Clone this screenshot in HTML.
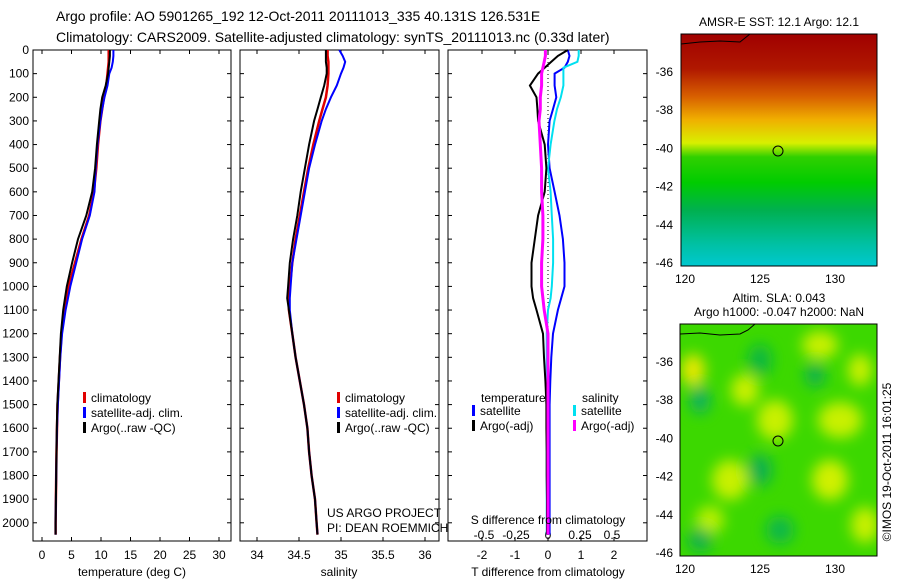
<!DOCTYPE html>
<html><head><meta charset="utf-8"><style>
body{margin:0;background:#fff;}
svg{display:block;font-family:"Liberation Sans",sans-serif;}
</style></head><body>
<svg id="c" width="900" height="580" viewBox="0 0 900 580">
<defs>
<linearGradient id="sstg" x1="0" y1="0" x2="0" y2="1">
<stop offset="0" stop-color="#a00000"/><stop offset="0.15" stop-color="#b01800"/>
<stop offset="0.27" stop-color="#d86000"/><stop offset="0.37" stop-color="#f0b000"/>
<stop offset="0.47" stop-color="#d8f000"/><stop offset="0.53" stop-color="#30d000"/>
<stop offset="0.64" stop-color="#00cc00"/><stop offset="0.76" stop-color="#00b050"/>
<stop offset="0.9" stop-color="#00c0a0"/><stop offset="1" stop-color="#00c8d0"/>
</linearGradient>
<filter id="bl"><feGaussianBlur stdDeviation="7"/></filter>
<clipPath id="m2clip"><rect x="680" y="324" width="197" height="232"/></clipPath>
</defs>
<text x="56" y="21" font-size="14">Argo profile: AO 5901265_192 12-Oct-2011 20111013_335 40.131S 126.531E</text>
<text x="56" y="42" font-size="14">Climatology: CARS2009. Satellite-adjusted climatology: synTS_20111013.nc (0.33d later)</text>
<g id="panels"></g>
<g>
<text x="779" y="26" font-size="12" text-anchor="middle">AMSR-E SST: 12.1 Argo: 12.1</text>
<rect x="681" y="34" width="196" height="232" fill="url(#sstg)"/>
<path d="M681,44 L700,42 L720,41 L740,42 L745,38 L750,34" fill="none" stroke="#000" stroke-width="1"/>
<circle cx="778" cy="151" r="5" fill="none" stroke="#000"/>
<rect x="681" y="34" width="196" height="232" fill="none" stroke="#000"/>
</g>
<g>
<text x="779" y="302" font-size="12" text-anchor="middle">Altim. SLA: 0.043</text>
<text x="779" y="316" font-size="12" text-anchor="middle">Argo h1000: -0.047 h2000: NaN</text>
<g clip-path="url(#m2clip)">
<rect x="680" y="324" width="197" height="232" fill="#3cd800"/>
<g filter="url(#bl)">
<ellipse cx="693" cy="370" rx="12" ry="16" fill="#e8e800"/>
<ellipse cx="745" cy="390" rx="14" ry="16" fill="#c8f000"/>
<ellipse cx="775" cy="420" rx="18" ry="20" fill="#c8f000"/>
<ellipse cx="820" cy="345" rx="18" ry="14" fill="#c8f000"/>
<ellipse cx="840" cy="420" rx="22" ry="18" fill="#c8f000"/>
<ellipse cx="860" cy="370" rx="12" ry="16" fill="#c8f000"/>
<ellipse cx="730" cy="480" rx="18" ry="20" fill="#c8f000"/>
<ellipse cx="830" cy="480" rx="18" ry="20" fill="#d0f000"/>
<ellipse cx="710" cy="520" rx="14" ry="14" fill="#b8f000"/>
<ellipse cx="865" cy="525" rx="14" ry="18" fill="#c8f000"/>
<ellipse cx="700" cy="400" rx="10" ry="14" fill="#10b060"/>
<ellipse cx="760" cy="360" rx="12" ry="16" fill="#10b840"/>
<ellipse cx="815" cy="375" rx="10" ry="12" fill="#10b050"/>
<ellipse cx="760" cy="470" rx="12" ry="16" fill="#10b050"/>
<ellipse cx="780" cy="530" rx="14" ry="14" fill="#10b848"/>
<ellipse cx="700" cy="540" rx="12" ry="12" fill="#10b050"/>
</g>
</g>
<path d="M680,334 L700,333 L720,335 L740,334 L748,330 L755,324" fill="none" stroke="#000"/>
<circle cx="778" cy="441" r="5" fill="none" stroke="#000"/>
<rect x="680" y="324" width="197" height="232" fill="none" stroke="#000"/>
</g>
<text transform="translate(891,462) rotate(-90)" font-size="12" text-anchor="middle">©IMOS 19-Oct-2011 16:01:25</text>
</svg>
<script>
const depths=[0,25,50,75,100,150,200,250,300,400,500,600,700,800,900,1000,1050,1100,1200,1300,1400,1500,1600,1700,1800,1900,2000,2050];
const tempArgo=[11.5,11.5,11.4,11.3,11.2,10.8,10.2,9.9,9.7,9.3,9.0,8.5,7.5,6.1,5.1,4.2,3.9,3.6,3.2,3.0,2.8,2.6,2.5,2.45,2.4,2.35,2.3,2.3];
const tempClim=[11.3,11.3,11.3,11.2,11.1,10.9,10.5,10.2,9.9,9.5,9.2,8.8,8.0,6.7,5.6,4.5,4.1,3.8,3.3,3.05,2.85,2.65,2.55,2.45,2.4,2.35,2.3,2.3];
const tempSat=[12.1,12.1,12.0,11.8,11.4,11.1,10.6,10.2,9.9,9.4,9.1,8.9,8.1,6.8,5.8,4.8,4.4,4.0,3.4,3.1,2.9,2.7,2.55,2.45,2.4,2.35,2.3,2.3];
const salArgo=[34.82,34.82,34.82,34.83,34.83,34.80,34.76,34.72,34.68,34.62,34.57,34.52,34.48,34.43,34.39,34.37,34.36,34.38,34.42,34.46,34.51,34.56,34.60,34.62,34.65,34.69,34.71,34.72];
const salClim=[34.84,34.84,34.85,34.85,34.85,34.84,34.82,34.78,34.74,34.67,34.61,34.56,34.51,34.46,34.42,34.39,34.38,34.38,34.42,34.46,34.51,34.56,34.60,34.62,34.65,34.69,34.71,34.72];
const salSat=[34.98,35.02,35.05,35.03,35.00,34.95,34.88,34.82,34.77,34.69,34.62,34.57,34.52,34.47,34.42,34.40,34.39,34.39,34.42,34.46,34.51,34.56,34.60,34.62,34.65,34.69,34.71,34.72];
const tDiffArgo=[0.6,0.3,0.1,-0.1,-0.3,-0.55,-0.35,-0.32,-0.3,-0.1,-0.05,-0.1,-0.3,-0.4,-0.5,-0.5,-0.45,-0.35,-0.15,-0.12,-0.08,-0.05,-0.05,-0.04,-0.04,-0.03,-0.03,-0.03];
const tDiffSat=[0.6,0.65,0.6,0.5,0.2,0.2,0.25,0.15,0.05,0.0,0.05,0.2,0.35,0.45,0.5,0.5,0.4,0.3,0.15,0.1,0.07,0.05,0.05,0.05,0.05,0.05,0.05,0.05];
const sDiffSat=[0.24,0.24,0.23,0.12,0.12,0.12,0.1,0.07,0.05,0.02,0.0,0.02,0.03,0.04,0.04,0.03,0.02,0.0,-0.01,-0.01,-0.01,-0.01,-0.01,-0.01,-0.01,-0.01,-0.01,-0.01];
const sDiffArgo=[-0.02,-0.02,-0.03,-0.04,-0.05,-0.05,-0.06,-0.06,-0.07,-0.06,-0.05,-0.05,-0.04,-0.04,-0.05,-0.05,-0.04,-0.03,0.0,0.0,0.0,0.0,0.0,0.0,0.0,0.0,0.0,0.0];
const depthTicks=[0,100,200,300,400,500,600,700,800,900,1000,1100,1200,1300,1400,1500,1600,1700,1800,1900,2000];
const tempTicks=[0,5,10,15,20,25,30];
const salTicks=[34,34.5,35,35.5,36];
const tDiffTicks=[-2,-1,0,1,2];
const sDiffTicks=[-0.5,-0.25,0,0.25,0.5];

const NS='http://www.w3.org/2000/svg';
const root=document.getElementById('panels');
function mk(tag,attrs,parent){const e=document.createElementNS(NS,tag);for(const k in attrs)e.setAttribute(k,attrs[k]);(parent||root).appendChild(e);return e;}
const Y0=50,Y1=541;
const yS=d=>Y0+(d/2050)*(Y1-Y0)*0.987;
function lin(d0,d1,r0,r1){return v=>r0+(v-d0)/(d1-d0)*(r1-r0);}
function line(vals,xs,color,w,name){
  const pts=depths.map((d,i)=>xs(vals[i]).toFixed(1)+','+yS(d).toFixed(1)).join(' ');
  const p=mk('polyline',{points:pts,fill:'none',stroke:color,'stroke-width':w});
  
  
}
function frame(x0,x1,name,ylabels){
  const g=mk('rect',{x:x0,y:Y0,width:x1-x0,height:Y1-Y0,fill:'none',stroke:'#000'});
  
  
  depthTicks.forEach(d=>{
    mk('line',{x1:x0,x2:x0+4,y1:yS(d),y2:yS(d),stroke:'#000'});
    mk('line',{x1:x1,x2:x1-4,y1:yS(d),y2:yS(d),stroke:'#000'});
    if(ylabels){const t=mk('text',{x:x0-4,y:yS(d)+4,'font-size':12,'text-anchor':'end'});t.textContent=d;
      
      }
  });
}
function xticks(ticks,xs,y){
  ticks.forEach(v=>{
    const x=xs(v);
    mk('line',{x1:x,x2:x,y1:Y1,y2:Y1-4,stroke:'#000'});
    mk('line',{x1:x,x2:x,y1:Y0,y2:Y0+4,stroke:'#000'});
    const t=mk('text',{x:x,y:y,'font-size':12,'text-anchor':'middle'});t.textContent=v;
    
    
  });
}
function txt(x,y,s,name,anchor){const t=mk('text',{x:x,y:y,'font-size':12,'text-anchor':anchor||'start'});t.textContent=s;
  
  }
function leg(x,y,color,s,name){mk('rect',{x:x,y:y-10,width:3,height:11,fill:color});txt(x+8,y,s,name);}

const xT=lin(0,30,42,219);
frame(33,231,'temperature-panel-frame',true);
xticks(tempTicks,xT,559);
line(tempClim,xT,'#e00000',2.5,'temperature-climatology-line');
line(tempSat,xT,'#0000ff',2,'temperature-satellite-line');
line(tempArgo,xT,'#000',2,'temperature-argo-line');
txt(132,576,'temperature (deg C)','temperature-axis-title','middle');
leg(83,402,'#e00000','climatology','legend-climatology');
leg(83,417,'#0000ff','satellite-adj. clim.','legend-satellite');
leg(83,432,'#000','Argo(..raw -QC)','legend-argo');

const xS=lin(34,36,257,425);
frame(240,439,'salinity-panel-frame',false);
xticks(salTicks,xS,559);
line(salClim,xS,'#e00000',2.5,'salinity-climatology-line');
line(salSat,xS,'#0000ff',2,'salinity-satellite-line');
line(salArgo,xS,'#000',2,'salinity-argo-line');
txt(339,576,'salinity','salinity-axis-title','middle');
leg(337,402,'#e00000','climatology','legend-climatology-2');
leg(337,417,'#0000ff','satellite-adj. clim.','legend-satellite-2');
leg(337,432,'#000','Argo(..raw -QC)','legend-argo-2');
txt(327,517,'US ARGO PROJECT','project-label');
txt(327,532,'PI: DEAN ROEMMICH','pi-label');

const xD=lin(-2,2,482,614);
const xSD=lin(-0.5,0.5,484,612);
frame(448,647,'difference-panel-frame',false);
xticks(tDiffTicks,xD,559);
sDiffTicks.forEach(v=>{const t=mk('text',{x:xSD(v),y:539,'font-size':12,'text-anchor':'middle'});t.textContent=v;
  
  });
const zl=mk('line',{x1:xD(0),x2:xD(0),y1:Y0,y2:Y1,stroke:'#000','stroke-dasharray':'1,3'});


line(tDiffSat,xD,'#0000ff',2,'t-diff-satellite-line');
line(sDiffSat,xSD,'#00e0f0',2,'s-diff-satellite-line');
line(tDiffArgo,xD,'#000',2,'t-diff-argo-line');
line(sDiffArgo,xSD,'#ff00ff',3,'s-diff-argo-line');
txt(548,576,'T difference from climatology','t-diff-axis-title','middle');
txt(548,524,'S difference from climatology','s-diff-axis-title','middle');
txt(481,402,'temperature','legend-temperature-header');
txt(582,402,'salinity','legend-salinity-header');
leg(472,415,'#0000ff','satellite','legend-t-satellite');
leg(472,430,'#000','Argo(-adj)','legend-t-argo');
leg(573,415,'#00e0f0','satellite','legend-s-satellite');
leg(573,430,'#ff00ff','Argo(-adj)','legend-s-argo');

const mx=lin(120,130,681,831);
const my=lin(-36,-46,72,263);
function mapAxes(yo,name){
  [120,125,130].forEach(v=>{
    mk('line',{x1:mx(v),x2:mx(v),y1:yo+232,y2:yo+228,stroke:'#000'});
    mk('line',{x1:mx(v),x2:mx(v),y1:yo,y2:yo+4,stroke:'#000'});
    const t=mk('text',{x:mx(v)+4,y:yo+249,'font-size':12,'text-anchor':'middle'});t.textContent=v;
    
    
  });
  [-36,-38,-40,-42,-44,-46].forEach(v=>{
    const y=my(v)+(yo-34);
    mk('line',{x1:877,x2:873,y1:y,y2:y,stroke:'#000'});
    mk('line',{x1:681,x2:685,y1:y,y2:y,stroke:'#000'});
    const t=mk('text',{x:673,y:y+4,'font-size':12,'text-anchor':'end'});t.textContent=v;
    
    
  });
}
mapAxes(34,'sst-map');
mapAxes(324,'sla-map');
</script>
</body></html>
